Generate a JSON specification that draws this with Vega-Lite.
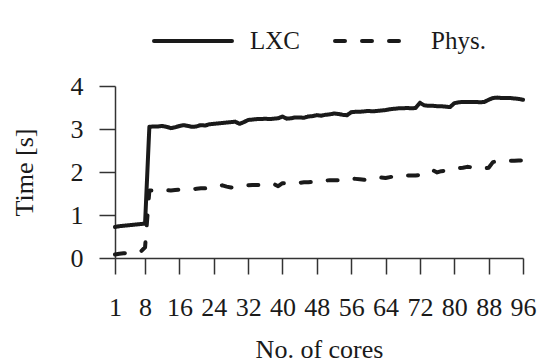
{
  "$schema": "https://vega.github.io/schema/vega-lite/v6.json",
  "width": 408,
  "height": 172,
  "autosize": {"type": "none"},
  "padding": {"left": 115, "top": 86, "right": 16, "bottom": 105},
  "background": "white",
  "config": {
    "view": {"stroke": null},
    "font": "Liberation Serif",
    "axis": {"labelFont": "Liberation Serif", "titleFont": "Liberation Serif", "labelFontSize": 26, "titleFontSize": 26, "labelColor": "#1a1a1a", "titleColor": "#1a1a1a", "titleFontWeight": "normal", "domainColor": "#333333", "tickColor": "#333333", "domainWidth": 1.5, "tickWidth": 1.5, "grid": false},
    "legend": {"labelFont": "Liberation Serif", "labelFontSize": 25, "labelColor": "#1a1a1a", "padding": 0}
  },
  "data": {
    "values": [
      {"cores":1,"series":"LXC","time":0.72},{"cores":2,"series":"LXC","time":0.74},{"cores":3,"series":"LXC","time":0.75},{"cores":4,"series":"LXC","time":0.76},{"cores":5,"series":"LXC","time":0.77},{"cores":6,"series":"LXC","time":0.78},{"cores":7,"series":"LXC","time":0.79},{"cores":8,"series":"LXC","time":0.80},
      {"cores":9,"series":"LXC","time":3.05},{"cores":10,"series":"LXC","time":3.06},{"cores":11,"series":"LXC","time":3.06},{"cores":12,"series":"LXC","time":3.07},{"cores":13,"series":"LXC","time":3.05},{"cores":14,"series":"LXC","time":3.02},{"cores":15,"series":"LXC","time":3.04},{"cores":16,"series":"LXC","time":3.07},
      {"cores":17,"series":"LXC","time":3.09},{"cores":18,"series":"LXC","time":3.07},{"cores":19,"series":"LXC","time":3.05},{"cores":20,"series":"LXC","time":3.06},{"cores":21,"series":"LXC","time":3.09},{"cores":22,"series":"LXC","time":3.08},{"cores":23,"series":"LXC","time":3.11},{"cores":24,"series":"LXC","time":3.12},
      {"cores":25,"series":"LXC","time":3.13},{"cores":26,"series":"LXC","time":3.14},{"cores":27,"series":"LXC","time":3.15},{"cores":28,"series":"LXC","time":3.16},{"cores":29,"series":"LXC","time":3.17},{"cores":30,"series":"LXC","time":3.12},{"cores":31,"series":"LXC","time":3.16},{"cores":32,"series":"LXC","time":3.21},
      {"cores":33,"series":"LXC","time":3.22},{"cores":34,"series":"LXC","time":3.23},{"cores":35,"series":"LXC","time":3.23},{"cores":36,"series":"LXC","time":3.24},{"cores":37,"series":"LXC","time":3.23},{"cores":38,"series":"LXC","time":3.24},{"cores":39,"series":"LXC","time":3.25},{"cores":40,"series":"LXC","time":3.29},
      {"cores":41,"series":"LXC","time":3.24},{"cores":42,"series":"LXC","time":3.25},{"cores":43,"series":"LXC","time":3.27},{"cores":44,"series":"LXC","time":3.27},{"cores":45,"series":"LXC","time":3.26},{"cores":46,"series":"LXC","time":3.29},{"cores":47,"series":"LXC","time":3.30},{"cores":48,"series":"LXC","time":3.32},
      {"cores":49,"series":"LXC","time":3.31},{"cores":50,"series":"LXC","time":3.33},{"cores":51,"series":"LXC","time":3.34},{"cores":52,"series":"LXC","time":3.36},{"cores":53,"series":"LXC","time":3.35},{"cores":54,"series":"LXC","time":3.33},{"cores":55,"series":"LXC","time":3.32},{"cores":56,"series":"LXC","time":3.39},
      {"cores":57,"series":"LXC","time":3.40},{"cores":58,"series":"LXC","time":3.40},{"cores":59,"series":"LXC","time":3.41},{"cores":60,"series":"LXC","time":3.42},{"cores":61,"series":"LXC","time":3.41},{"cores":62,"series":"LXC","time":3.42},{"cores":63,"series":"LXC","time":3.43},{"cores":64,"series":"LXC","time":3.44},
      {"cores":65,"series":"LXC","time":3.46},{"cores":66,"series":"LXC","time":3.47},{"cores":67,"series":"LXC","time":3.48},{"cores":68,"series":"LXC","time":3.48},{"cores":69,"series":"LXC","time":3.49},{"cores":70,"series":"LXC","time":3.48},{"cores":71,"series":"LXC","time":3.49},{"cores":72,"series":"LXC","time":3.61},
      {"cores":73,"series":"LXC","time":3.55},{"cores":74,"series":"LXC","time":3.54},{"cores":75,"series":"LXC","time":3.54},{"cores":76,"series":"LXC","time":3.53},{"cores":77,"series":"LXC","time":3.53},{"cores":78,"series":"LXC","time":3.52},{"cores":79,"series":"LXC","time":3.51},{"cores":80,"series":"LXC","time":3.60},
      {"cores":81,"series":"LXC","time":3.62},{"cores":82,"series":"LXC","time":3.63},{"cores":83,"series":"LXC","time":3.63},{"cores":84,"series":"LXC","time":3.63},{"cores":85,"series":"LXC","time":3.63},{"cores":86,"series":"LXC","time":3.62},{"cores":87,"series":"LXC","time":3.63},{"cores":88,"series":"LXC","time":3.68},
      {"cores":89,"series":"LXC","time":3.72},{"cores":90,"series":"LXC","time":3.73},{"cores":91,"series":"LXC","time":3.72},{"cores":92,"series":"LXC","time":3.72},{"cores":93,"series":"LXC","time":3.72},{"cores":94,"series":"LXC","time":3.71},{"cores":95,"series":"LXC","time":3.70},{"cores":96,"series":"LXC","time":3.68},
      {"cores":1,"series":"Phys.","time":0.08},{"cores":2,"series":"Phys.","time":0.10},{"cores":3,"series":"Phys.","time":0.11},{"cores":4,"series":"Phys.","time":0.12},{"cores":5,"series":"Phys.","time":0.13},{"cores":6,"series":"Phys.","time":0.14},{"cores":7,"series":"Phys.","time":0.15},{"cores":8,"series":"Phys.","time":0.25},
      {"cores":9,"series":"Phys.","time":1.57},{"cores":10,"series":"Phys.","time":1.57},{"cores":11,"series":"Phys.","time":1.58},{"cores":12,"series":"Phys.","time":1.57},{"cores":13,"series":"Phys.","time":1.58},{"cores":14,"series":"Phys.","time":1.57},{"cores":15,"series":"Phys.","time":1.58},{"cores":16,"series":"Phys.","time":1.59},
      {"cores":17,"series":"Phys.","time":1.59},{"cores":18,"series":"Phys.","time":1.60},{"cores":19,"series":"Phys.","time":1.60},{"cores":20,"series":"Phys.","time":1.61},{"cores":21,"series":"Phys.","time":1.62},{"cores":22,"series":"Phys.","time":1.62},{"cores":23,"series":"Phys.","time":1.63},{"cores":24,"series":"Phys.","time":1.64},
      {"cores":25,"series":"Phys.","time":1.68},{"cores":26,"series":"Phys.","time":1.69},{"cores":27,"series":"Phys.","time":1.66},{"cores":28,"series":"Phys.","time":1.64},{"cores":29,"series":"Phys.","time":1.65},{"cores":30,"series":"Phys.","time":1.66},{"cores":31,"series":"Phys.","time":1.67},{"cores":32,"series":"Phys.","time":1.69},
      {"cores":33,"series":"Phys.","time":1.70},{"cores":34,"series":"Phys.","time":1.70},{"cores":35,"series":"Phys.","time":1.70},{"cores":36,"series":"Phys.","time":1.71},{"cores":37,"series":"Phys.","time":1.72},{"cores":38,"series":"Phys.","time":1.72},{"cores":39,"series":"Phys.","time":1.67},{"cores":40,"series":"Phys.","time":1.74},
      {"cores":41,"series":"Phys.","time":1.73},{"cores":42,"series":"Phys.","time":1.73},{"cores":43,"series":"Phys.","time":1.74},{"cores":44,"series":"Phys.","time":1.75},{"cores":45,"series":"Phys.","time":1.76},{"cores":46,"series":"Phys.","time":1.76},{"cores":47,"series":"Phys.","time":1.77},{"cores":48,"series":"Phys.","time":1.77},
      {"cores":49,"series":"Phys.","time":1.78},{"cores":50,"series":"Phys.","time":1.80},{"cores":51,"series":"Phys.","time":1.81},{"cores":52,"series":"Phys.","time":1.81},{"cores":53,"series":"Phys.","time":1.81},{"cores":54,"series":"Phys.","time":1.82},{"cores":55,"series":"Phys.","time":1.83},{"cores":56,"series":"Phys.","time":1.85},
      {"cores":57,"series":"Phys.","time":1.84},{"cores":58,"series":"Phys.","time":1.83},{"cores":59,"series":"Phys.","time":1.82},{"cores":60,"series":"Phys.","time":1.84},{"cores":61,"series":"Phys.","time":1.85},{"cores":62,"series":"Phys.","time":1.86},{"cores":63,"series":"Phys.","time":1.87},{"cores":64,"series":"Phys.","time":1.86},
      {"cores":65,"series":"Phys.","time":1.88},{"cores":66,"series":"Phys.","time":1.90},{"cores":67,"series":"Phys.","time":1.91},{"cores":68,"series":"Phys.","time":1.91},{"cores":69,"series":"Phys.","time":1.92},{"cores":70,"series":"Phys.","time":1.92},{"cores":71,"series":"Phys.","time":1.92},{"cores":72,"series":"Phys.","time":1.93},
      {"cores":73,"series":"Phys.","time":1.95},{"cores":74,"series":"Phys.","time":1.98},{"cores":75,"series":"Phys.","time":2.04},{"cores":76,"series":"Phys.","time":1.99},{"cores":77,"series":"Phys.","time":2.02},{"cores":78,"series":"Phys.","time":2.03},{"cores":79,"series":"Phys.","time":2.05},{"cores":80,"series":"Phys.","time":2.07},
      {"cores":81,"series":"Phys.","time":2.09},{"cores":82,"series":"Phys.","time":2.10},{"cores":83,"series":"Phys.","time":2.12},{"cores":84,"series":"Phys.","time":2.11},{"cores":85,"series":"Phys.","time":2.10},{"cores":86,"series":"Phys.","time":2.09},{"cores":87,"series":"Phys.","time":2.08},{"cores":88,"series":"Phys.","time":2.10},
      {"cores":89,"series":"Phys.","time":2.23},{"cores":90,"series":"Phys.","time":2.25},{"cores":91,"series":"Phys.","time":2.26},{"cores":92,"series":"Phys.","time":2.26},{"cores":93,"series":"Phys.","time":2.26},{"cores":94,"series":"Phys.","time":2.26},{"cores":95,"series":"Phys.","time":2.27},{"cores":96,"series":"Phys.","time":2.27}
    ]
  },
  "mark": {"type": "line", "color": "#1a1a1a", "strokeWidth": 4, "strokeCap": "round", "strokeJoin": "round"},
  "encoding": {
    "x": {
      "field": "cores", "type": "quantitative",
      "scale": {"domain": [1, 96], "nice": false, "zero": false},
      "axis": {"values": [1, 8, 16, 24, 32, 40, 48, 56, 64, 72, 80, 88, 96], "tickSize": 16, "labelPadding": 20, "labelFlush": false, "labelOverlap": false, "labelFont": "Liberation Serif", "titleFont": "Liberation Serif", "title": "No. of cores", "titlePadding": 16}
    },
    "y": {
      "field": "time", "type": "quantitative",
      "scale": {"domain": [0, 4], "nice": false},
      "axis": {"values": [0, 1, 2, 3, 4], "tickSize": 16, "labelPadding": 16, "labelFlush": false, "labelFont": "Liberation Serif", "titleFont": "Liberation Serif", "title": "Time [s]", "titlePadding": 33}
    },
    "strokeDash": {
      "field": "series", "type": "nominal",
      "scale": {"domain": ["LXC", "Phys."], "range": [[1, 0], [10, 17]]},
      "legend": {"title": null, "orient": "none", "direction": "horizontal", "legendX": 37, "legendY": -86, "symbolType": "stroke", "symbolSize": 6084, "symbolStrokeWidth": 4, "symbolStrokeColor": "#1a1a1a", "labelOffset": 16, "columnPadding": 27, "labelFont": "Liberation Serif",
        "encode": {"symbols": {"update": {"strokeCap": {"value": "round"}}}}}
    }
  }
}
